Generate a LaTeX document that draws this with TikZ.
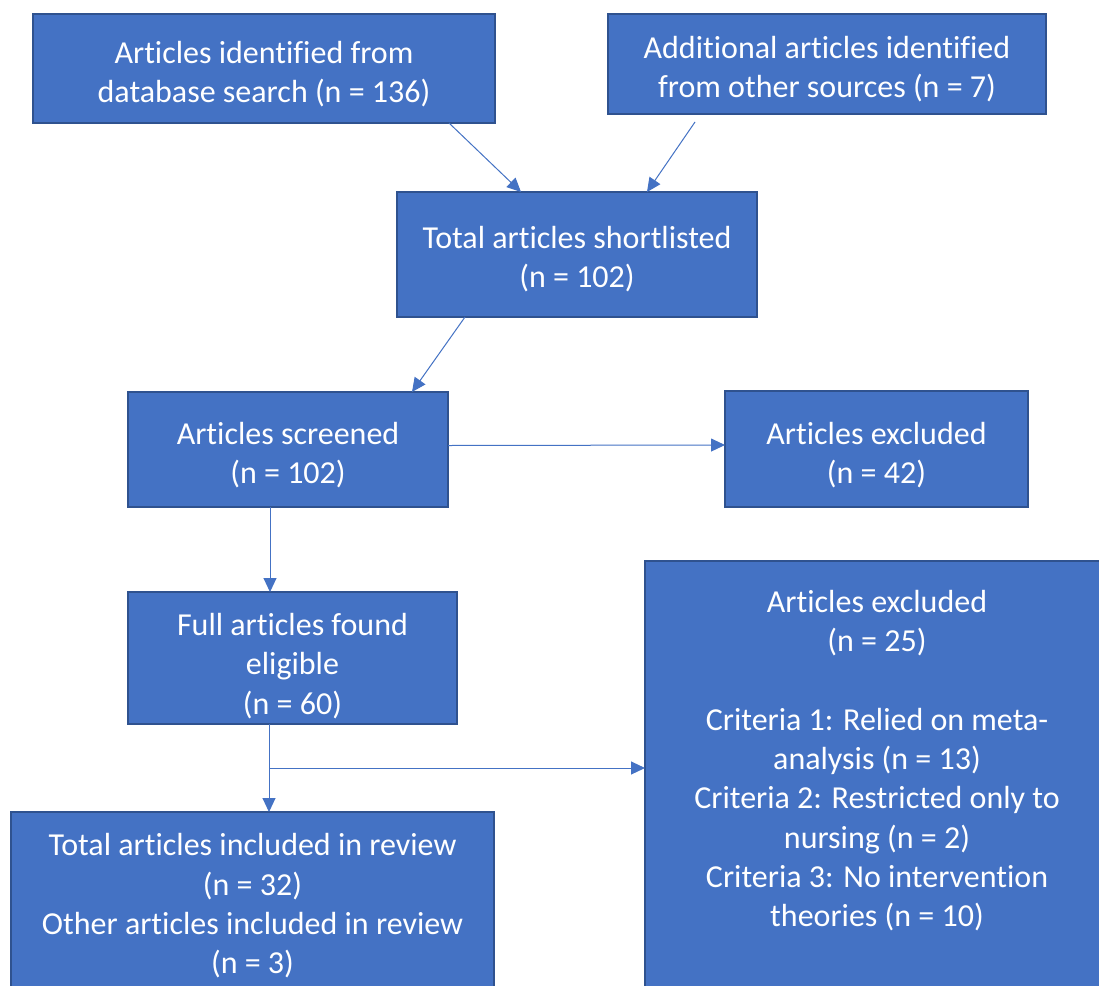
\documentclass[tikz,border=0pt]{standalone}
\usepackage{fontspec}
\setmainfont{Carlito}[Ligatures=CommonOff]
\usetikzlibrary{arrows.meta,calc}
\definecolor{boxfill}{HTML}{4472C4}
\definecolor{boxline}{HTML}{2F528F}
\definecolor{arrcol}{HTML}{4472C4}
\begin{document}
\begin{tikzpicture}[x=1pt,y=-1pt,
  box/.style={draw=boxline, fill=boxfill, line width=1.3pt, rectangle, inner sep=0pt, outer sep=0pt},
  txt/.style={text=white, align=center, font=\fontsize{32}{39.3}\selectfont, inner sep=0pt},
  arr/.style={draw=arrcol, line width=1pt, -{Triangle[length=14pt,width=13pt]}}]
\clip (0,0) rectangle (1099,985);
\fill[white] (0,0) rectangle (1099,985);
% boxes
\node[box, minimum width=462pt, minimum height=109pt] (A) at (264,68.5) {};
\node[box, minimum width=438pt, minimum height=100pt] (B) at (827,64) {};
\node[box, minimum width=360pt, minimum height=125pt] (C) at (577,254.5) {};
\node[box, minimum width=320pt, minimum height=115pt] (D) at (288,449.5) {};
\node[box, minimum width=303pt, minimum height=116pt] (E) at (876.5,449) {};
\node[box, minimum width=329pt, minimum height=132pt] (F) at (292.5,658) {};
\node[box, minimum width=483pt, minimum height=198pt] (G) at (252.5,911) {};
\node[box, minimum width=464pt, minimum height=449pt] (H) at (877,785.5) {};
% texts
\node[txt] (At) at (264,74) {Articles identified from\\database search (n = 136)};
\node[txt] (Bt) at (827,69) {Additional articles identified\\from other sources (n = 7)};
\node[txt] (Ct) at (577,259) {Total articles shortlisted\\(n = 102)};
\node[txt] (Dt) at (288,455) {Articles screened\\(n = 102)};
\node[txt] (Et) at (876.5,455) {Articles excluded\\(n = 42)};
\node[txt] (Ft) at (292.5,666) {Full articles found\\eligible\\(n = 60)};
\node[txt] (Gt) at (252.5,906) {Total articles included in review\\(n = 32)\\Other articles included in review\\(n = 3)};
\node[txt] (Ht) at (877,760.5) {Articles excluded\\(n = 25)\\ \\Criteria 1: Relied on meta-\\analysis (n = 13)\\Criteria 2: Restricted only to\\nursing (n = 2)\\Criteria 3: No intervention\\theories (n = 10)};
% connectors
\draw[arr] ([xshift=185pt]A.south) -- ([xshift=-56pt]C.north);
\draw[arr] ([xshift=-132pt,yshift=-8pt]B.south) -- ([xshift=70pt]C.north);
\draw[arr] ([xshift=-112pt]C.south) -- ([xshift=124pt]D.north);
\draw[arr] ([yshift=4pt]D.east) -- ([yshift=4pt]E.west);
\draw[arr] ([xshift=-18pt]D.south) -- ([xshift=-18pt]D.south |- F.north);
\draw[arr] ([xshift=-23.5pt]F.south) -- ([xshift=-23.5pt]F.south |- G.north);
\coordinate (br) at ([xshift=-23.5pt,yshift=-44pt]F.south);
\draw[arr] (br) -- (br -| H.west);
\end{tikzpicture}
\end{document}
